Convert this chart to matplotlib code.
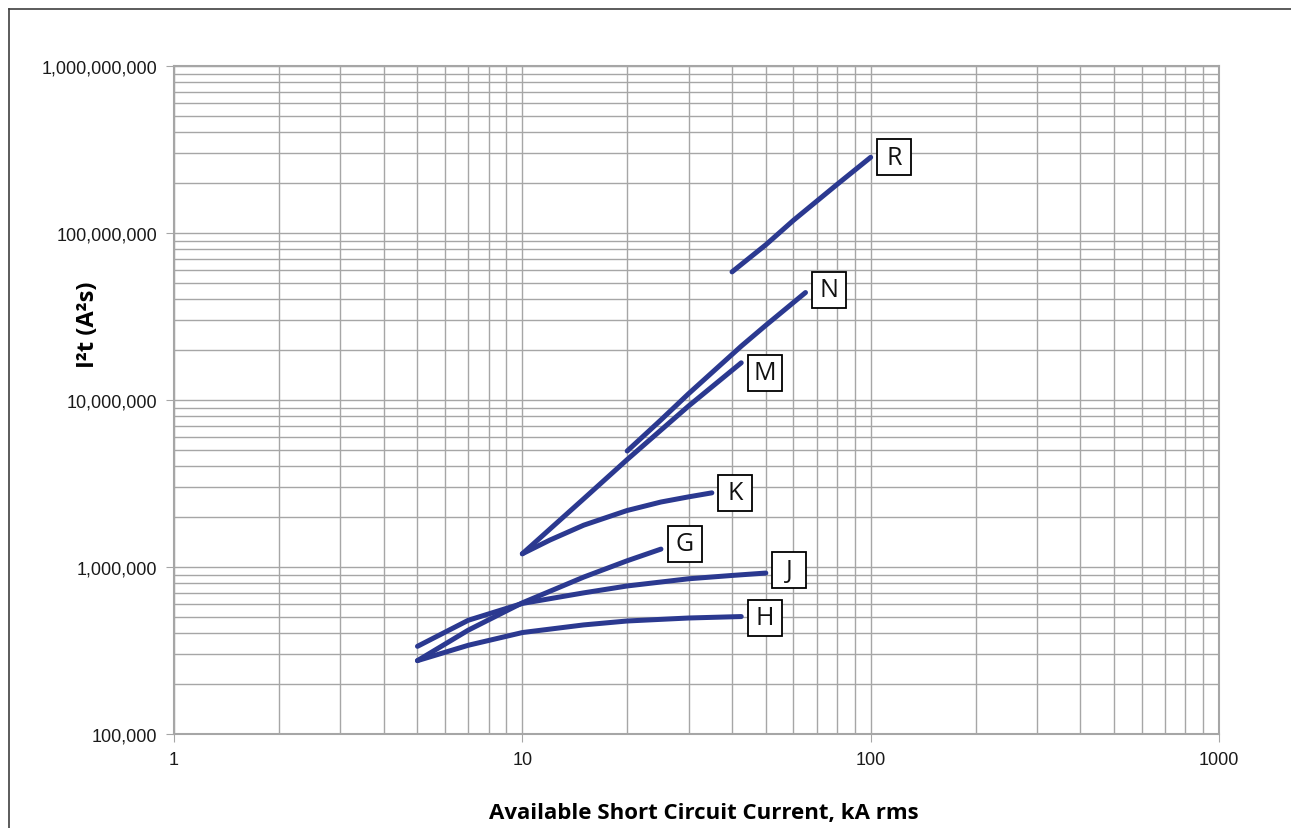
import matplotlib.pyplot as plt
from matplotlib.ticker import FixedLocator, FuncFormatter, NullFormatter
from matplotlib.lines import Line2D
from matplotlib.patches import Rectangle
from matplotlib.transforms import ScaledTranslation

# I2t let-through curves (kA rms, A^2 s)
r_x = [40, 50, 60, 80, 100]
r_y = [5.85e7, 8.5e7, 1.19e8, 1.95e8, 2.84e8]
n_x = [20, 25, 30, 42.5, 50, 65]
n_y = [4.95e6, 7.6e6, 1.09e7, 2.1e7, 2.8e7, 4.4e7]
m_x = [10, 15, 20, 30, 42.5]
m_y = [1.2e6, 2.56e6, 4.4e6, 9.2e6, 1.67e7]
k_x = [10, 12, 15, 20, 25, 30, 35]
k_y = [1.2e6, 1.45e6, 1.78e6, 2.18e6, 2.45e6, 2.63e6, 2.78e6]
g_x = [5, 7, 10, 15, 20, 25]
g_y = [2.75e5, 4.19e5, 6.1e5, 8.7e5, 1.09e6, 1.28e6]
j_x = [5, 7, 10, 15, 20, 30, 40, 50]
j_y = [3.35e5, 4.8e5, 6.05e5, 7.0e5, 7.7e5, 8.5e5, 8.9e5, 9.2e5]
h_x = [5, 7, 10, 15, 20, 30, 42.5]
h_y = [2.75e5, 3.4e5, 4.05e5, 4.5e5, 4.75e5, 4.95e5, 5.05e5]

curves = [("R", r_x, r_y, 0), ("N", n_x, n_y, 2), ("M", m_x, m_y, -7),
          ("K", k_x, k_y, 0), ("G", g_x, g_y, 4), ("J", j_x, j_y, 2),
          ("H", h_x, h_y, -1)]

x_ticks = [1, 10, 100, 1000]
y_ticks = [1e5, 1e6, 1e7, 1e8, 1e9]

line_color = "#2b3990"
grid_color = "#a6a6a6"

fig = plt.figure(figsize=(12.91, 8.29), dpi=100)
ax = fig.add_axes([174/1291, 1-735/829, 1045/1291, 668/829])
ax.set_xscale("log")
ax.set_yscale("log")
ax.set_xlim(1, 1000)
ax.set_ylim(1e5, 1e9)

ax.grid(True, which="both", color=grid_color, lw=1.0)
ax.set_axisbelow(True)
ax.xaxis.set_major_locator(FixedLocator(x_ticks))
ax.yaxis.set_major_locator(FixedLocator(y_ticks))
ax.xaxis.set_major_formatter(FuncFormatter(lambda v, p: "%d" % v))
ax.yaxis.set_major_formatter(FuncFormatter(lambda v, p: "{:,}".format(int(round(v)))))
ax.xaxis.set_minor_formatter(NullFormatter())
ax.yaxis.set_minor_formatter(NullFormatter())
ax.tick_params(which="major", length=6, color=grid_color, labelsize=13, pad=6)
ax.tick_params(which="minor", length=0)
for lab in ax.get_xticklabels() + ax.get_yticklabels():
    lab.set_family("Liberation Sans")
    lab.set_color("#1a1a1a")
for s in ax.spines.values():
    s.set_color(grid_color)
    s.set_linewidth(1.5)

box_w, box_h = 0.34, 0.36   # inches
dx = 17                      # points right of the curve end
for name, xs, ys, dy in curves:
    ax.plot(xs, ys, color=line_color, lw=3.6, solid_capstyle="round")
    # fixed-size label box anchored at the end of the curve
    trans = fig.dpi_scale_trans + ScaledTranslation(xs[-1], ys[-1], ax.transData)
    ax.add_patch(Rectangle((dx/72 - box_w/2, dy/72 - box_h/2), box_w, box_h,
                           transform=trans, fc="white", ec="black", lw=1.3,
                           zorder=3, clip_on=False))
    ax.annotate(name, (xs[-1], ys[-1]), xytext=(dx, dy), textcoords="offset points",
                ha="center", va="center", fontsize=18, family="Open Sans",
                color="#111111", zorder=4)

ax.set_xlabel("Available Short Circuit Current, kA rms", fontsize=16,
              fontweight="bold", family="Open Sans")
ax.set_ylabel("I²t (A²s)", fontsize=17, fontweight="bold", family="Open Sans")
ax.xaxis.set_label_coords(0.507, -0.102)
ax.yaxis.set_label_coords(-0.071, 0.614)

# outer frame (left and top edges visible)
fig.add_artist(Line2D([9/1291, 9/1291], [0, 1-10/829], transform=fig.transFigure,
                      color="#404040", lw=1.2))
fig.add_artist(Line2D([9/1291, 1], [1-10/829, 1-10/829], transform=fig.transFigure,
                      color="#404040", lw=1.2))

fig.savefig("out.png", dpi=100)
